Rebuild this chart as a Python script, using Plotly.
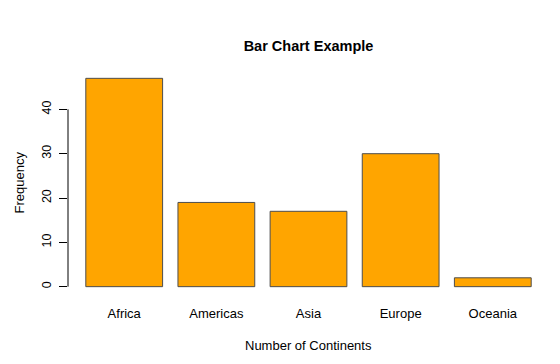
import plotly.graph_objects as go

categories = ["Africa", "Americas", "Asia", "Europe", "Oceania"]
frequency = [47, 19, 17, 30, 2]
y_ticks = [0, 10, 20, 30, 40]

FONT = "Liberation Sans, Arial, sans-serif"
OFF = 8  # default page body margin

fig = go.Figure()
fig.add_trace(go.Bar(
    x=categories, y=frequency,
    marker=dict(color="#FFA500", line=dict(color="#4d4d4d", width=1)),
    hoverinfo="x+y",
))

ymax = max(frequency)
pad = 0.04 * ymax
n = len(categories)
# R barplot: width 1, space 0.2 -> period 1.2 ; x range extended 4%
span = n * 1.2 - 0.2
ext = 0.04 * span
left = (0.2 - ext - 0.7) / 1.2
right = (n * 1.2 + ext - 0.7) / 1.2

H = 364 - OFF
fig.update_layout(
    width=560 - OFF, height=H,
    margin=dict(l=68 - OFF, r=11, t=70 - OFF, b=69),
    paper_bgcolor="white", plot_bgcolor="white",
    bargap=1 - 1 / 1.2,
    showlegend=False,
    font=dict(family=FONT, size=13, color="black"),
    title=dict(text="<b>Bar Chart Example</b>", x=0.5, xanchor="center",
               xref="paper", y=1 - (46 - OFF) / H, yanchor="middle", yref="container",
               font=dict(family=FONT, size=14.5, color="black")),
    xaxis=dict(range=[left, right], showline=False, showgrid=False, zeroline=False,
               ticks="", tickfont=dict(size=13), ticklabelstandoff=9),
    yaxis=dict(range=[-pad, ymax + pad], showline=False, showgrid=False, zeroline=False,
               tickvals=y_ticks, ticks="outside", ticklen=8, tickcolor="black",
               tickwidth=1, tickangle=-90, tickfont=dict(size=12.5),
               ticklabelstandoff=3),
)

# y axis line spanning only the tick range (as in R base graphics)
fig.add_shape(type="line", xref="paper", yref="y", x0=0, x1=0,
              y0=min(y_ticks), y1=max(y_ticks),
              line=dict(color="black", width=1))

fig.add_annotation(text="Number of Continents", xref="paper", yref="paper",
                   x=0.5, y=0, yshift=-50, showarrow=False,
                   xanchor="center", yanchor="middle", font=dict(size=13))
fig.add_annotation(text="Frequency", xref="paper", yref="paper",
                   x=0, y=0.5, xshift=-49, textangle=-90, showarrow=False,
                   xanchor="center", yanchor="middle", font=dict(size=13))

fig.write_html("out.html")
